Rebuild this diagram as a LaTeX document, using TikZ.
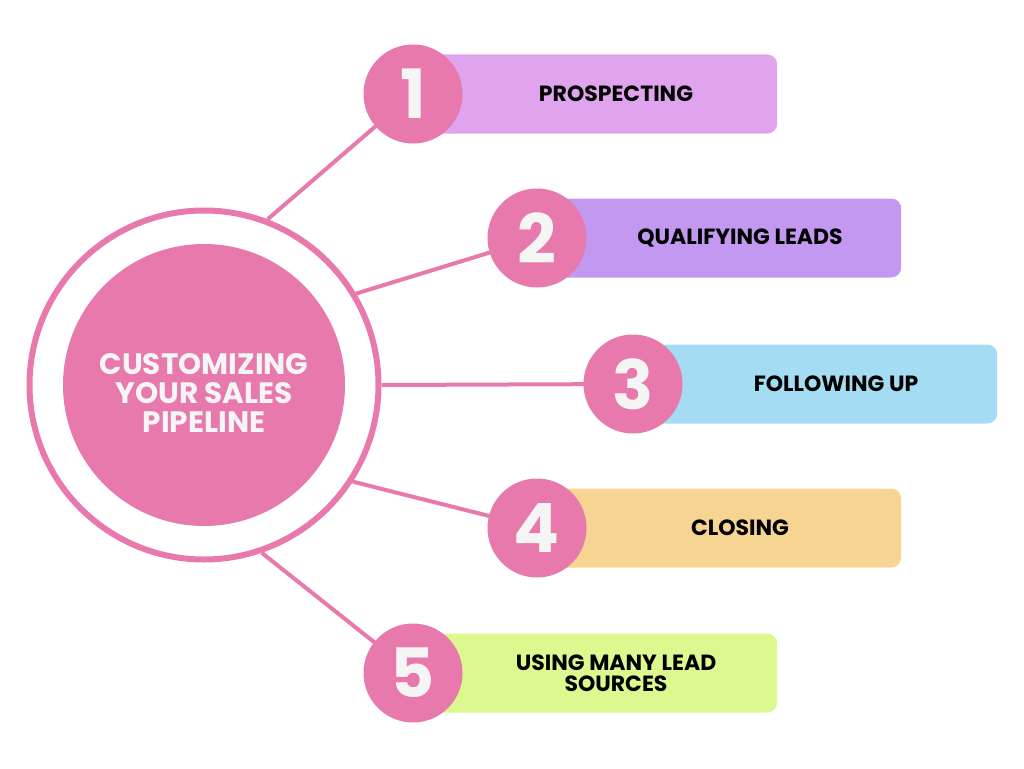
\documentclass[tikz,border=0pt]{standalone}
\usepackage{fontspec}
\setmainfont{Poppins}
\usetikzlibrary{positioning}

\definecolor{hubpink}{HTML}{E779AC}
\definecolor{hubtext}{HTML}{F5F5F5}
\definecolor{barviolet}{HTML}{E0A4EE}
\definecolor{barpurple}{HTML}{C298F1}
\definecolor{barblue}{HTML}{A4DCF4}
\definecolor{barsand}{HTML}{F6D492}
\definecolor{barlime}{HTML}{DBF98E}

\begin{document}
\begin{tikzpicture}[x=1pt, y=-1pt,
    ring/.style = {circle, draw=hubpink, line width=6pt, minimum size=349pt, inner sep=0pt},
    hub/.style = {circle, fill=hubpink, minimum size=282pt, inner sep=0pt},
    hubtitle/.style = {text=hubtext, align=center, font=\fontsize{29.5}{29}\selectfont\bfseries},
    badge/.style = {circle, fill=hubpink, minimum size=99pt, inner sep=0pt, text=hubtext,
                    font=\fontsize{68}{68}\selectfont\bfseries},
    bar/.style = {rounded corners=10pt, minimum width=362pt, minimum height=79pt, inner sep=0pt},
    steptext/.style = {align=center, font=\fontsize{22}{21}\selectfont\bfseries},
    spoke/.style = {draw=hubpink, line width=4pt}]

    \useasboundingbox (0,0) rectangle (1024,768);

    \node[ring] (ring) at (204,385) {};
    \node[hub] (hub) at (204,385) {};
    \node[hubtitle] (title) at (204,393) {CUSTOMIZING\\YOUR SALES\\PIPELINE};

    % bars with their labels
    \foreach \i/\x/\y/\col/\txt in {1/413/94/barviolet/PROSPECTING,
                                   2/537/238/barpurple/QUALIFYING LEADS,
                                   3/633/384/barblue/FOLLOWING UP,
                                   4/537/528/barsand/CLOSING,
                                   5/413/673/barlime/{USING MANY LEAD\\SOURCES}}{
        \coordinate (c\i) at (\x,\y);
        \node[bar, fill=\col, anchor=west] (bar\i) at (\x+2,\y) {};
        \node[steptext] (txt\i) at (\x+203,\y) {\txt};
    }

    % spokes from the ring
    \foreach \i/\ang in {1/69, 2/31, 3/0, 4/-33, 5/-71}
        \draw[spoke] (ring.\ang) -- (c\i);

    % numbered badges
    \foreach \i in {1,...,5}
        \node[badge] (badge\i) at (c\i) {\i};

\end{tikzpicture}
\end{document}
